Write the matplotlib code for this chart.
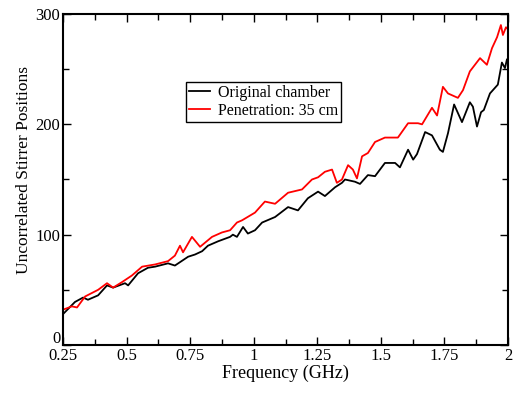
import matplotlib
matplotlib.use("Agg")
import matplotlib.pyplot as plt
from matplotlib.ticker import MultipleLocator
from matplotlib.transforms import ScaledTranslation

# values (GHz, positions)
freq_orig = [0.25, 0.297, 0.329, 0.348, 0.388, 0.423, 0.447, 0.494, 0.506, 0.545,
             0.584, 0.612, 0.663, 0.690, 0.742, 0.769, 0.797, 0.820, 0.860, 0.907,
             0.918, 0.934, 0.958, 0.977, 1.005, 1.033, 1.084, 1.135, 1.174, 1.213,
             1.253, 1.280, 1.320, 1.347, 1.359, 1.398, 1.418, 1.449, 1.477, 1.516,
             1.556, 1.575, 1.607, 1.627, 1.642, 1.674, 1.701, 1.732, 1.744, 1.764,
             1.788, 1.819, 1.850, 1.862, 1.878, 1.894, 1.905, 1.929, 1.960, 1.976,
             1.988, 1.996, 2.0]
pos_orig = [28, 39, 43, 41, 45, 54, 52, 56, 54, 65,
            70, 71, 74, 72, 80, 82, 85, 90, 94, 98,
            100, 98, 107, 101, 104, 111, 116, 125, 122, 133,
            139, 135, 143, 147, 150, 148, 146, 154, 153, 165,
            165, 161, 177, 168, 173, 193, 190, 177, 175, 192,
            218, 202, 220, 216, 198, 211, 213, 228, 236, 256,
            251, 259, 255]

freq_pen = [0.25, 0.285, 0.305, 0.337, 0.388, 0.423, 0.447, 0.482, 0.521, 0.561,
            0.612, 0.663, 0.690, 0.710, 0.722, 0.757, 0.789, 0.836, 0.875, 0.907,
            0.934, 0.954, 1.005, 1.044, 1.084, 1.135, 1.190, 1.229, 1.253, 1.280,
            1.308, 1.327, 1.347, 1.371, 1.390, 1.406, 1.426, 1.449, 1.477, 1.516,
            1.567, 1.607, 1.646, 1.662, 1.701, 1.721, 1.744, 1.764, 1.803, 1.823,
            1.850, 1.870, 1.890, 1.917, 1.937, 1.957, 1.972, 1.980, 1.992, 2.0]
pos_pen = [32, 35, 34, 44, 50, 56, 52, 57, 63, 71,
           73, 76, 81, 90, 84, 98, 89, 98, 102, 104,
           111, 113, 120, 130, 128, 138, 141, 150, 152, 157,
           159, 147, 150, 163, 159, 151, 171, 174, 184, 188,
           188, 201, 201, 200, 215, 208, 234, 228, 224, 231,
           248, 254, 260, 254, 269, 279, 290, 281, 288, 286]

plt.rcParams["font.family"] = ["Liberation Serif", "DejaVu Serif"]

fig = plt.figure(figsize=(5.17, 3.98), dpi=100)
ax = fig.add_axes([0.1219, 0.1332, 0.8607, 0.8316])

ax.plot(freq_orig, pos_orig, color="black", lw=1.3, label="Original chamber")
ax.plot(freq_pen, pos_pen, color="red", lw=1.3, label="Penetration: 35 cm")

ax.set_xlim(0.25, 2.0)
ax.set_ylim(0, 300)
ax.xaxis.set_minor_locator(MultipleLocator(0.125))
ax.set_yticks([0, 100, 200, 300])
ax.yaxis.set_minor_locator(MultipleLocator(50))
ax.set_xticks([0.25, 0.5, 0.75, 1.0, 1.25, 1.5, 1.75, 2.0])
ax.set_xticklabels(["0.25", "0.5", "0.75", "1", "1.25", "1.5", "1.75", "2"])
ax.tick_params(which="both", direction="in", top=True, right=True, labelsize=12, pad=2)
ax.tick_params(which="major", length=6, width=1)
ax.tick_params(which="minor", length=4, width=1)
for s in ax.spines.values():
    s.set_linewidth(1.5)

# the "0" sits a little higher in the original
zero = ax.get_yticklabels()[0]
zero.set_transform(zero.get_transform() + ScaledTranslation(0, 5.5 / 72, fig.dpi_scale_trans))

ax.set_xlabel("Frequency (GHz)", fontsize=13, labelpad=1)
ax.set_ylabel("Uncorrelated Stirrer Positions", fontsize=12.5)
ax.yaxis.set_label_coords(-0.07, 0.53)

leg = ax.legend(loc="upper left", bbox_to_anchor=(0.276, 0.795), borderaxespad=0,
                fontsize=11.5, fancybox=False, edgecolor="black", framealpha=1,
                handlelength=1.3, handletextpad=0.5, borderpad=0.2, labelspacing=0.1)
leg.get_frame().set_linewidth(1.0)

fig.savefig("out.png", dpi=100)
